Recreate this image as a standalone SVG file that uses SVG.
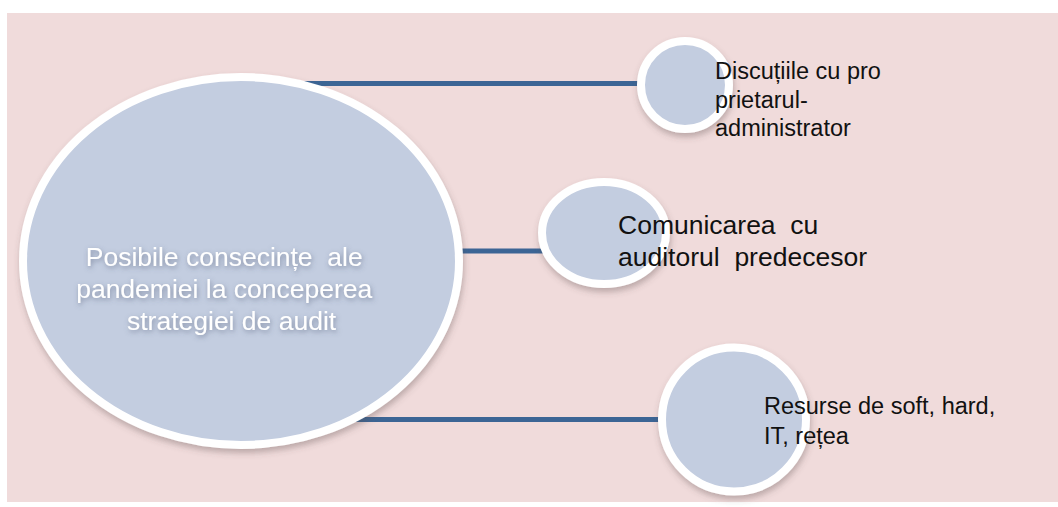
<svg xmlns="http://www.w3.org/2000/svg" width="1058" height="507" viewBox="0 0 1058 507">
  <defs>
    <filter id="shadow" x="-20%" y="-20%" width="140%" height="140%">
      <feDropShadow dx="1" dy="4" stdDeviation="3" flood-color="#5a4848" flood-opacity="0.35"/>
    </filter>
    <filter id="glow" x="-10%" y="-30%" width="120%" height="160%">
      <feGaussianBlur in="SourceAlpha" stdDeviation="2.5" result="b"/>
      <feFlood flood-color="#4a5570" flood-opacity="0.55"/>
      <feComposite in2="b" operator="in" result="g"/>
      <feOffset dx="1" dy="2" result="go"/>
      <feMerge><feMergeNode in="go"/><feMergeNode in="SourceGraphic"/></feMerge>
    </filter>
    <style>
      .node { fill: #C3CDE0; stroke: #FFFFFF; stroke-width: 8; filter: url(#shadow); }
      .conn { stroke: #3C6595; stroke-width: 5; fill: none; }
      .lbl { font-family: "Liberation Sans", Arial, sans-serif; fill: #111111; white-space: pre; }
      .main { font-family: "Liberation Sans", Arial, sans-serif; fill: #FFFFFF; font-size: 26.5px; text-anchor: middle; white-space: pre; filter: url(#glow); }
    </style>
  </defs>
  <rect x="7" y="13" width="1051" height="489" fill="#F0DBDB"/>
  <g id="connectors">
    <line class="conn" x1="300" y1="83.5" x2="645" y2="83.5"/>
    <line class="conn" x1="455" y1="251" x2="545" y2="251"/>
    <line class="conn" x1="340" y1="419.5" x2="665" y2="419.5"/>
  </g>
  <g id="node-center">
    <ellipse class="node" cx="241" cy="261" rx="218" ry="184"/>
    <text class="main">
      <tspan x="250" y="266">Posibile consecințe  ale</tspan>
      <tspan x="250" y="298">pandemiei la conceperea</tspan>
      <tspan x="250" y="330">strategiei de audit</tspan>
    </text>
  </g>
  <g id="node-discutii">
    <circle class="node" cx="685" cy="85" r="44"/>
    <text class="lbl" font-size="23.5">
      <tspan x="715" y="79">Discuțiile cu pro</tspan>
      <tspan x="715" y="108">prietarul-</tspan>
      <tspan x="715" y="136">administrator</tspan>
    </text>
  </g>
  <g id="node-comunicarea">
    <ellipse class="node" cx="604" cy="233" rx="62" ry="51"/>
    <text class="lbl" font-size="26.5">
      <tspan x="618" y="234">Comunicarea  cu</tspan>
      <tspan x="618" y="266">auditorul  predecesor</tspan>
    </text>
  </g>
  <g id="node-resurse">
    <circle class="node" cx="734" cy="419.5" r="72"/>
    <text class="lbl" font-size="23.5">
      <tspan x="764" y="414">Resurse de soft, hard,</tspan>
      <tspan x="764" y="444">IT, rețea</tspan>
    </text>
  </g>
</svg>
